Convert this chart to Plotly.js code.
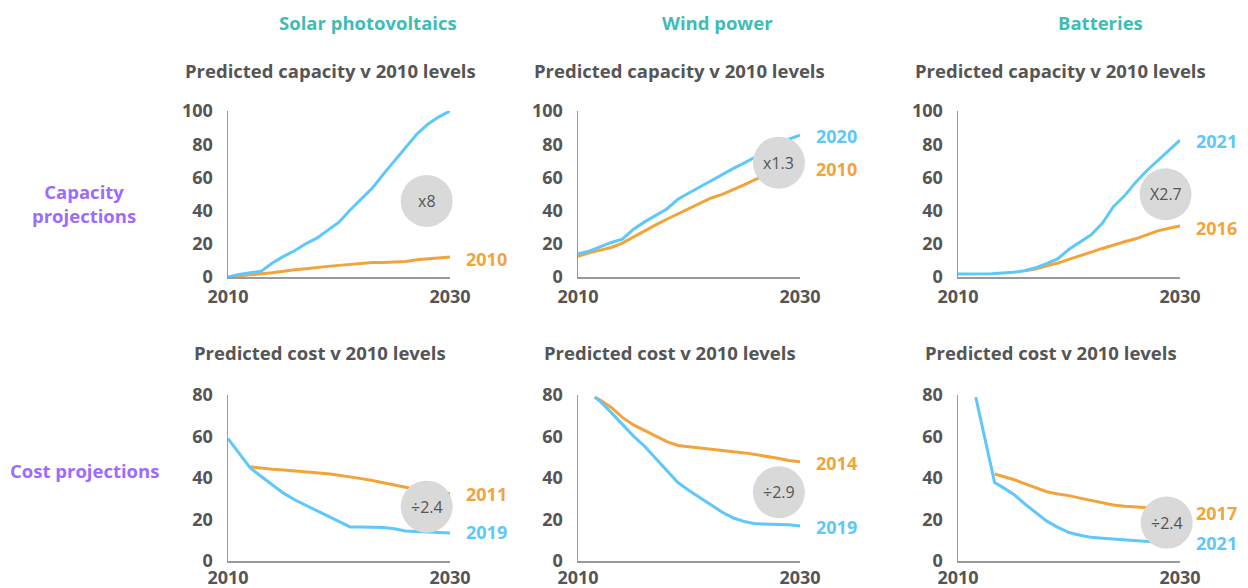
<!DOCTYPE html>
<html><head><meta charset="utf-8">
<script src="https://cdn.plot.ly/plotly-3.0.1.min.js"></script>
<style>html,body{margin:0;padding:0;background:#fff;} #chart{width:1248px;height:588px;}</style>
</head><body><div id="chart"></div>
<script>
// ---------- DATA ----------
const YEARS = [2010,2011,2012,2013,2014,2015,2016,2017,2018,2019,2020,2021,2022,2023,2024,2025,2026,2027,2028,2029,2030];

const columnTitles = ["Solar photovoltaics", "Wind power", "Batteries"];
const rowTitles = ["Capacity<br>projections", "Cost projections"];
const capSubtitle = "Predicted capacity v 2010 levels";
const costSubtitle = "Predicted cost v 2010 levels";
const xTickLabels = ["2010", "2030"];
const capTicks = [0,20,40,60,80,100];
const costTicks = [0,20,40,60,80];

// Solar capacity
const solarCapBlueX = YEARS;
const solarCapBlue = [0,1.5,2.5,3.5,8.4,12.4,15.8,20,23.4,28,33,40.4,47,53.5,62,70,77.8,86,92,96.5,100];
const solarCapOrangeX = YEARS;
const solarCapOrange = [0,0.8,1.5,2,2.5,3.5,4.3,5,5.5,6.4,7,7.5,8.4,8.8,8.8,9,9.4,10.4,11,11.5,12];

// Wind capacity
const windCapBlueX = YEARS;
const windCapBlue = [14,15.6,18.2,20.8,22.8,28.8,33.2,37,41,46.8,50.8,54.4,58,61.8,65.4,68.8,72.5,76,79.5,83,85.4];
const windCapOrangeX = YEARS;
const windCapOrange = [12.4,14.6,16.2,17.8,20.4,24.2,27.8,31.4,34.8,38.1,41.4,44.8,47.6,49.8,52.6,55.6,58.8,61.5,63.5,65.5,67];

// Battery capacity
const batCapBlueX = YEARS;
const batCapBlue = [1.8,1.8,1.8,2,2.4,2.8,3.8,5.6,8,11,16.7,20.8,25.4,32.4,42.4,48.9,57,64,70,76,82.4];
const batCapOrangeX = [2016,2017,2018,2019,2020,2021,2022,2023,2024,2025,2026,2027,2028,2029,2030];
const batCapOrange = [3.8,4.8,6.8,8.4,10.6,13,15,17.2,19.4,21.2,23,25.2,27.8,29.4,30.8];

// Solar cost
const solarCostBlueX = YEARS;
const solarCostBlue = [59,51.8,44.9,40.7,36.6,32.7,29.5,26.9,24.3,21.7,19.2,16.4,16.4,16.4,16.2,15.5,14.5,14.2,13.9,13.7,13.5];
const solarCostOrangeX = [2012,2013,2014,2015,2016,2017,2018,2019,2020,2021,2022,2023,2024,2025,2026,2027,2028,2029,2030];
const solarCostOrange = [45.4,44.7,44.2,43.8,43.4,43.1,42.6,42,41.3,40.6,39.7,38.8,37.7,36.6,35.4,34.5,33.9,33.2,32.5];

// Wind cost
const windCostX = [2011.5,2012,2013,2014,2015,2016,2017,2018,2019,2020,2021,2022,2023,2024,2025,2026,2027,2028,2029,2030];
const windCostBlue = [79,76.9,71.5,65.6,60.2,55.3,49.6,43.6,37.8,34,30.6,26.9,23.5,20.7,19,17.9,17.7,17.7,17.5,16.9];
const windCostOrange = [79,77.6,74,69.2,65.6,62.9,60,57.5,55.7,55.1,54.7,54,53.3,52.8,52.1,51.3,50.5,49.5,48.4,47.8];

// Battery cost
const batCostBlueX = [2011.6,2013.3,2014,2015,2016,2017,2018,2019,2020,2021,2022,2023,2024,2025,2026,2027,2028,2029,2030];
const batCostBlue = [79,37.8,35.6,32.2,27.6,23.2,19.2,16.2,13.7,12.4,11.4,11,10.6,10.3,9.7,9.2,8.9,8.6,8.3];
const batCostOrangeX = [2013.3,2014,2015,2016,2017,2018,2019,2020,2021,2022,2023,2024,2025,2026,2027,2028,2029,2030];
const batCostOrange = [41.9,40.9,39.3,37.3,35.4,33.4,32.3,31.5,30.3,29.1,27.9,27,26.4,26,25.6,25.3,25,24.7];

// Badge texts and end labels
const badgeTexts = ["x8", "x1.3", "X2.7", "÷2.4", "÷2.9", "÷2.4"];
const blueLabels = ["", "2020", "2021", "2019", "2019", "2021"];
const orangeLabels = ["2010", "2010", "2016", "2011", "2014", "2017"];

// ---------- STYLE / LAYOUT ----------
const BLUE = "#5ec8fb", ORANGE = "#f2a43a", GREY = "#555555", TEAL = "#3dbdb5", PURPLE = "#9d6bff";
const FONT = "Open Sans";
const W = 1248, H = 588;
const colPx = [[228,450],[578,800],[958,1180]];
const rowPx = [[111,277],[395,561]];

const panels = [
  {bx: solarCapBlueX, by: solarCapBlue, ox: solarCapOrangeX, oy: solarCapOrange, cap: true,
   badge: [2027.9, 45.8], bl: null, ol: 10.8},
  {bx: windCapBlueX, by: windCapBlue, ox: windCapOrangeX, oy: windCapOrange, cap: true,
   badge: [2028.1, 68.9], bl: 85.1, ol: 65},
  {bx: batCapBlueX, by: batCapBlue, ox: batCapOrangeX, oy: batCapOrange, cap: true,
   badge: [2028.7, 49.8], bl: 82.1, ol: 29.7},
  {bx: solarCostBlueX, by: solarCostBlue, ox: solarCostOrangeX, oy: solarCostOrange, cap: false,
   badge: [2027.9, 26.2], bl: 13.8, ol: 32.3},
  {bx: windCostX, by: windCostBlue, ox: windCostX, oy: windCostOrange, cap: false,
   badge: [2028.1, 33.1], bl: 16.5, ol: 47.4},
  {bx: batCostBlueX, by: batCostBlue, ox: batCostOrangeX, oy: batCostOrange, cap: false,
   badge: [2028.8, 18.5], bl: 8.5, ol: 23},
];

const traces = [];
const layout = {
  width: W, height: H, autosize: false,
  margin: {l:0, r:0, t:0, b:0, pad:0},
  paper_bgcolor: "#ffffff", plot_bgcolor: "rgba(0,0,0,0)",
  showlegend: false,
  font: {family: FONT, color: GREY},
  shapes: [], annotations: []
};

panels.forEach((p, i) => {
  const c = i % 3, r = Math.floor(i / 3);
  const xa = i === 0 ? "x" : "x" + (i + 1);
  const ya = i === 0 ? "y" : "y" + (i + 1);
  const xKey = i === 0 ? "xaxis" : "xaxis" + (i + 1);
  const yKey = i === 0 ? "yaxis" : "yaxis" + (i + 1);
  const ticks = p.cap ? capTicks : costTicks;
  const xDom = [colPx[c][0] / W, colPx[c][1] / W];
  const yDom = [1 - rowPx[r][1] / H, 1 - rowPx[r][0] / H];
  const yMax = ticks[ticks.length - 1];
  layout[xKey] = {
    domain: xDom, anchor: ya, range: [2010, 2030],
    tickvals: [2010, 2030], ticktext: xTickLabels,
    showline: true, linecolor: "#9a9a9a", linewidth: 1.5,
    showgrid: false, zeroline: false,
    ticks: "outside", ticklen: r === 0 ? 3 : 0, tickcolor: "rgba(0,0,0,0)",
    ticklabelstandoff: 0,
    tickfont: {family: FONT, size: 18, color: GREY, weight: "bold"},
    fixedrange: true
  };
  layout[yKey] = {
    domain: yDom, anchor: xa, range: [0, yMax],
    tickvals: ticks,
    showline: true, linecolor: "#9a9a9a", linewidth: 1.5,
    showgrid: false, zeroline: false,
    ticks: "outside", ticklen: 10, tickcolor: "rgba(0,0,0,0)",
    tickfont: {family: FONT, size: 18, color: GREY, weight: "bold"},
    fixedrange: true
  };
  traces.push({x: p.ox, y: p.oy, xaxis: xa, yaxis: ya, type: "scatter", mode: "lines",
    line: {color: ORANGE, width: 3}, cliponaxis: false, hoverinfo: "skip"});
  traces.push({x: p.bx, y: p.by, xaxis: xa, yaxis: ya, type: "scatter", mode: "lines",
    line: {color: BLUE, width: 3}, cliponaxis: false, hoverinfo: "skip"});
  // badge circle in paper coordinates (so it is not clipped by the plot area)
  const bxPaper = xDom[0] + (p.badge[0] - 2010) / 20 * (xDom[1] - xDom[0]);
  const byPaper = yDom[0] + p.badge[1] / yMax * (yDom[1] - yDom[0]);
  layout.shapes.push({type: "circle", xref: "paper", yref: "paper", xsizemode: "pixel", ysizemode: "pixel",
    xanchor: bxPaper, yanchor: byPaper, x0: -26, x1: 26, y0: -26, y1: 26,
    fillcolor: "#d9d9d9", line: {width: 0}, layer: "above"});
  layout.annotations.push({xref: "paper", yref: "paper", x: bxPaper, y: byPaper, text: badgeTexts[i],
    showarrow: false, xanchor: "center", yanchor: "middle",
    font: {family: FONT, size: 16, color: GREY}});
  if (blueLabels[i]) layout.annotations.push({xref: xa, yref: ya, x: 2030, y: p.bl, text: blueLabels[i],
    showarrow: false, xanchor: "left", yanchor: "middle", xshift: 14,
    font: {family: FONT, size: 18, color: BLUE, weight: "bold"}});
  if (orangeLabels[i]) layout.annotations.push({xref: xa, yref: ya, x: 2030, y: p.ol, text: orangeLabels[i],
    showarrow: false, xanchor: "left", yanchor: "middle", xshift: 14,
    font: {family: FONT, size: 18, color: ORANGE, weight: "bold"}});
});

function paperText(text, px, py, size, color) {
  layout.annotations.push({xref: "paper", yref: "paper", x: px / W, y: 1 - py / H, text: text,
    showarrow: false, xanchor: "center", yanchor: "middle",
    font: {family: FONT, size: size, color: color, weight: "bold"}});
}
const headX = [368, 717, 1100];
const capSubX = [330, 680, 1060];
const costSubX = [320, 670, 1051];
columnTitles.forEach((t, i) => paperText(t, headX[i], 22, 18.5, TEAL));
capSubX.forEach(x => paperText(capSubtitle, x, 70, 18.5, GREY));
costSubX.forEach(x => paperText(costSubtitle, x, 353, 18.5, GREY));
paperText(rowTitles[0], 84, 203, 18.5, PURPLE);
paperText(rowTitles[1], 84, 470, 18.5, PURPLE);

Plotly.newPlot("chart", traces, layout, {staticPlot: true, displayModeBar: false});
</script></body></html>
